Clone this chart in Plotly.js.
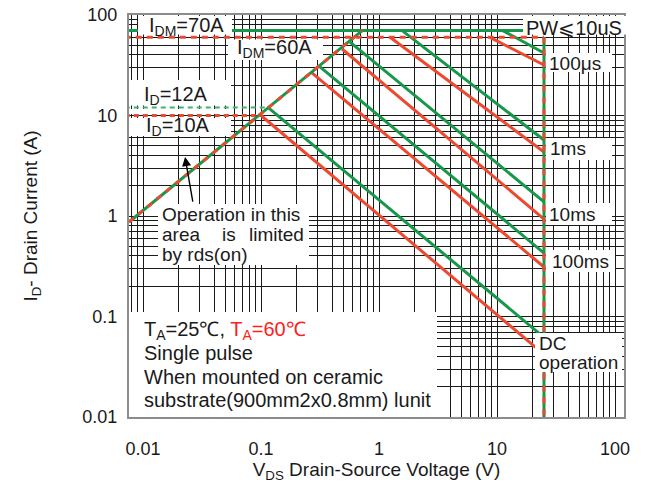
<!DOCTYPE html>
<html>
<head>
<meta charset="utf-8">
<script src="https://cdn.plot.ly/plotly-3.0.1.min.js"></script>
<style>
  html, body { margin: 0; padding: 0; background: #fff; }
  #soa { width: 649px; height: 486px; }
</style>
</head>
<body>
<div id="soa"></div>
<script>
// ---- Safe operating area data ----
const VDS_MAX = 25;                 // V
const IDM_25 = 70, IDM_60 = 60;     // pulsed drain current limits (A)
const ID_25 = 12, ID_60 = 10;       // continuous drain current limits (A)
const V_LEFT = 0.007;               // lines run in from the left edge

// rds(on) limited region
const RDS_V = [0.0076, 0.72];
const RDS_I = [0.87, 70];

// TA = 25 C boundaries
const T25_100US_V = [11.2, VDS_MAX],  T25_100US_I = [70, 41.9];
const T25_1MS_V   = [1.57, VDS_MAX],  T25_1MS_I   = [70, 5.7];
const T25_10MS_V  = [0.568, VDS_MAX], T25_10MS_I  = [53.8, 1.38];
const T25_100MS_V = [0.316, VDS_MAX], T25_100MS_I = [30.4, 0.428];
const T25_DC_V    = [0.115, VDS_MAX], T25_DC_I    = [12, 0.062];

// TA = 60 C boundaries
const T60_100US_V = [8.7, VDS_MAX],   T60_100US_I = [60, 31.8];
const T60_1MS_V   = [1.24, VDS_MAX],  T60_1MS_I   = [60, 4.33];
const T60_10MS_V  = [0.486, VDS_MAX], T60_10MS_I  = [45.9, 0.933];
const T60_100MS_V = [0.27, VDS_MAX],  T60_100MS_I = [26.5, 0.311];
const T60_DC_V    = [0.1, VDS_MAX],   T60_DC_I    = [10, 0.042];

// axis labels
const X_DECADES = [0.01, 0.1, 1, 10, 100];
const X_TICK_LABELS = ['0.01', '0.1', '1', '10', '100'];
const Y_DECADES = [0.01, 0.1, 1, 10, 100];
const Y_TICK_LABELS = ['0.01', '0.1', '1', '10', '100'];

// ---- styling ----
const RED = '#EC4A30';
const GREEN = '#17974A';
const GREEN_LIGHT = '#3FB36B';
const FONT = 'Liberation Sans, Arial, Helvetica, sans-serif';
const TEXT = '#1a1a1a';

// log grid at every 1..9 x 10^n, labelled on the decades only
function logGrid(decades, labels) {
  const vals = [], text = [];
  for (let e = -3; e <= 2; e++) {
    for (let m = 1; m <= 9; m++) {
      const v = +(m * Math.pow(10, e)).toPrecision(6);
      vals.push(v);
      const i = decades.findIndex(d => Math.abs(d - v) / d < 1e-6);
      text.push(i >= 0 ? labels[i] : '');
    }
  }
  return { vals, text };
}
const gx = logGrid(X_DECADES, X_TICK_LABELS);
const gy = logGrid(Y_DECADES, Y_TICK_LABELS);

function line(x, y, color, width, dash) {
  return {
    type: 'scatter', mode: 'lines', x: x, y: y,
    line: { color: color, width: width, dash: dash || 'solid' },
    hoverinfo: 'skip', showlegend: false
  };
}

const traces = [
  // current limits
  line([V_LEFT, VDS_MAX], [IDM_25, IDM_25], GREEN, 3),
  line([V_LEFT, T25_DC_V[0]], [ID_25, ID_25], GREEN_LIGHT, 2, '5px,4px'),
  line([V_LEFT, T60_DC_V[0]], [ID_60, ID_60], RED, 3, '5px,4px'),
  // TA = 25 C
  line(T25_100US_V, T25_100US_I, GREEN, 3),
  line(T25_1MS_V, T25_1MS_I, GREEN, 3),
  line(T25_10MS_V, T25_10MS_I, GREEN, 3),
  line(T25_100MS_V, T25_100MS_I, GREEN, 3),
  line(T25_DC_V, T25_DC_I, GREEN, 3),
  // TA = 60 C
  line(T60_100US_V, T60_100US_I, RED, 3),
  line(T60_1MS_V, T60_1MS_I, RED, 3),
  line(T60_10MS_V, T60_10MS_I, RED, 3),
  line(T60_100MS_V, T60_100MS_I, RED, 3),
  line(T60_DC_V, T60_DC_I, RED, 3),
  line([V_LEFT, VDS_MAX], [IDM_60, IDM_60], RED, 3, '6px,5px'),
  // VDS limit, both temperatures
  line([VDS_MAX, VDS_MAX], [IDM_60, 0.009], GREEN, 3),
  line([VDS_MAX, VDS_MAX], [IDM_60, 0.009], RED, 3, '6px,6px'),
  // rds(on) limit, both temperatures
  line(RDS_V, RDS_I, GREEN, 3),
  line(RDS_V, RDS_I, RED, 3, '6px,6px')
];

// plot area in page pixels
const L = 129, R = 624, T = 15, B = 417;
const px = v => (v - L) / (R - L);
const py = v => (B - v) / (B - T);

// white label backgrounds, drawn over grid and lines, under the text
function box(x0, y0, x1, y1) {
  return {
    type: 'rect', xref: 'paper', yref: 'paper',
    x0: px(x0), x1: px(x1), y0: py(y1), y1: py(y0),
    fillcolor: '#ffffff', line: { width: 0 }, layer: 'above'
  };
}

const shapes = [
  box(138, 16, 232, 34.5),    // IDM=70A
  box(228, 39.5, 323, 60),    // IDM=60A
  box(129, 80, 231, 105.5),   // ID=12A
  box(129, 109, 231, 114),    // gap between the two current limits
  box(129, 118, 231, 136),    // ID=10A
  box(158, 204, 309, 265),    // rds(on) note
  box(129, 312, 437, 417),    // conditions
  box(523, 16, 628, 34.5),    // PW
  box(546, 53, 612, 72),      // 100us
  box(546, 138, 612, 160),    // 1ms
  box(546, 203, 612, 225),    // 10ms
  box(546, 250, 615, 272),    // 100ms
  box(535, 333, 622, 372)     // DC operation
];

function label(text, x, y, size, xanchor, color) {
  return {
    xref: 'paper', yref: 'paper', x: px(x), y: py(y),
    xanchor: xanchor || 'center', yanchor: 'middle',
    text: text, showarrow: false,
    font: { family: FONT, size: size, color: color || TEXT }
  };
}

const annotations = [
  label('I<sub>DM</sub>=70A', 186, 26, 20),
  label('I<sub>DM</sub>=60A', 274, 49, 20),
  label('I<sub>D</sub>=12A', 176, 95, 20),
  label('I<sub>D</sub>=10A', 178, 126, 20),
  label('PW⩽10uS', 524, 28, 20, 'left'),
  label('100μs', 547, 63, 19, 'left'),
  label('1ms', 548, 148, 19, 'left'),
  label('10ms', 547, 214, 19, 'left'),
  label('100ms', 550, 261, 19, 'left'),
  label('DC', 537, 343, 19, 'left'),
  label('operation', 537, 362, 19, 'left'),
  label('Operation in this', 160, 214, 19, 'left'),
  label('area', 160, 234, 19, 'left'),
  label('is', 220, 234, 19, 'left'),
  label('limited', 306, 234, 19, 'right'),
  label('by rds(on)', 160, 254, 19, 'left'),
  label('T<sub>A</sub>=25℃, <span style="color:#FF2020">T<sub>A</sub>=60℃</span>', 142, 330, 20, 'left'),
  label('Single pulse', 142, 353, 20, 'left'),
  label('When mounted on ceramic', 142, 377, 20, 'left'),
  label('substrate(900mm2x0.8mm) lunit', 142, 400, 20, 'left'),
  // pointer from the note to the rds(on) line
  {
    xref: 'x', yref: 'y', x: Math.log10(0.0227), y: Math.log10(3.86),
    ax: 8, ay: 46, text: '', showarrow: true,
    arrowhead: 2, arrowsize: 1.3, arrowwidth: 1.4, arrowcolor: '#000'
  }
];

const axisCommon = {
  type: 'log',
  showgrid: true, gridcolor: '#1a1a1a', gridwidth: 1,
  showline: true, linecolor: '#8c8c8c', linewidth: 2, mirror: true,
  zeroline: false, ticks: '',
  tickmode: 'array',
  tickfont: { family: FONT, size: 18, color: TEXT }
};

const layout = {
  width: 649, height: 486,
  margin: { l: L, r: 649 - R, t: T, b: 486 - B },
  paper_bgcolor: '#fff', plot_bgcolor: '#fff',
  showlegend: false,
  font: { family: FONT, color: TEXT },
  xaxis: Object.assign({}, axisCommon, {
    range: [-2.119, 2.076],
    tickvals: gx.vals, ticktext: gx.text,
    ticklabelstandoff: 14,
    title: { text: 'V<sub>DS</sub> Drain-Source Voltage (V)', font: { family: FONT, size: 19, color: TEXT }, standoff: 4 }
  }),
  yaxis: Object.assign({}, axisCommon, {
    range: [-2, 2],
    tickvals: gy.vals, ticktext: gy.text,
    ticklabelstandoff: 6,
    title: { text: 'I<sub>D</sub>- Drain Current (A)', font: { family: FONT, size: 19, color: TEXT }, standoff: 40 }
  }),
  shapes: shapes,
  annotations: annotations
};

Plotly.newPlot('soa', traces, layout, { staticPlot: true, displayModeBar: false });
</script>
</body>
</html>
